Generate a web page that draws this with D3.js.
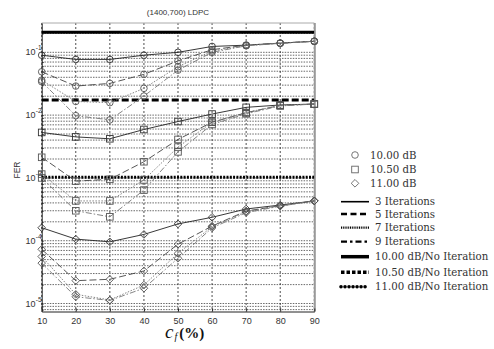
<!DOCTYPE html>
<html>
<head>
<meta charset="utf-8">
<script src="https://cdn.jsdelivr.net/npm/d3@7/dist/d3.min.js"></script>
<style>
  html, body { margin: 0; padding: 0; background: #fff; }
  svg { display: block; }
</style>
</head>
<body>
<svg id="chart" width="494" height="349"></svg>
<script>
// ---------------- DATA ----------------
const xValues = [10, 20, 30, 40, 50, 60, 70, 80, 90];
const xTickLabels = ["10", "20", "30", "40", "50", "60", "70", "80", "90"];
const yTickExponents = [-1, -2, -3, -4, -5];
const snrLabels = ["10.00 dB", "10.50 dB", "11.00 dB"];
const iterationLabels = ["3 Iterations", "5 Iterations", "7 Iterations", "9 Iterations"];
const noIterLabels = ["10.00 dB/No Iteration", "10.50 dB/No Iteration", "11.00 dB/No Iteration"];
const noIterFER = [0.208, 0.0174, 0.00102];

// 10.00 dB (circles)
const fer10_it3 = [0.090, 0.077, 0.077, 0.090, 0.100, 0.124, 0.130, 0.140, 0.150];
const fer10_it5 = [0.049, 0.029, 0.032, 0.0446, 0.073, 0.110, 0.130, 0.140, 0.150];
const fer10_it7 = [0.036, 0.0165, 0.0158, 0.0267, 0.059, 0.105, 0.128, 0.140, 0.150];
const fer10_it9 = [0.034, 0.0098, 0.0084, 0.0201, 0.052, 0.100, 0.127, 0.139, 0.150];
// 10.50 dB (squares)
const fer105_it3 = [0.0053, 0.0045, 0.0042, 0.0059, 0.0079, 0.0104, 0.0133, 0.0145, 0.0150];
const fer105_it5 = [0.00213, 0.00089, 0.00095, 0.00181, 0.0041, 0.0077, 0.0109, 0.0143, 0.0150];
const fer105_it7 = [0.00115, 0.00043, 0.00043, 0.00093, 0.0031, 0.0077, 0.0110, 0.0143, 0.0150];
const fer105_it9 = [0.00100, 0.00030, 0.00024, 0.00064, 0.0026, 0.0071, 0.0105, 0.0140, 0.0150];
// 11.00 dB (diamonds)
const fer11_it3 = [1.61e-4, 1.06e-4, 9.6e-5, 1.26e-4, 1.85e-4, 2.36e-4, 3.2e-4, 3.7e-4, 4.3e-4];
const fer11_it5 = [7.3e-5, 2.31e-5, 2.43e-5, 3.3e-5, 8.8e-5, 1.71e-4, 2.97e-4, 3.6e-4, 4.3e-4];
const fer11_it7 = [5.6e-5, 1.40e-5, 1.14e-5, 1.97e-5, 6.3e-5, 1.67e-4, 2.9e-4, 3.6e-4, 4.3e-4];
const fer11_it9 = [4.4e-5, 1.28e-5, 1.12e-5, 1.75e-5, 5.25e-5, 1.60e-4, 2.8e-4, 3.55e-4, 4.3e-4];

const seriesTable = [
  [fer10_it3, fer10_it5, fer10_it7, fer10_it9],
  [fer105_it3, fer105_it5, fer105_it7, fer105_it9],
  [fer11_it3, fer11_it5, fer11_it7, fer11_it9]
];

// ---------------- STYLES ----------------
const markerShapes = ["circle", "square", "diamond"];
const iterStyles = [
  { dash: null, color: "#222", width: 0.9 },
  { dash: "7,3", color: "#444", width: 0.9 },
  { dash: "1.5,1.5", color: "#777", width: 0.9 },
  { dash: "6,2,1.5,2", color: "#777", width: 0.9 }
];
const noIterStyles = [
  { dash: null, width: 3 },
  { dash: "7,3", width: 2.8 },
  { dash: "2,1.3", width: 3 }
];

// ---------------- LAYOUT ----------------
const svg = d3.select("#chart");
const plot = { left: 41.7, right: 314.3, top: 23, bottom: 311.5 };
const x = d3.scaleLinear().domain([10, 90]).range([plot.left, plot.right]);
const y = d3.scaleLog().domain([7.46e-6, 0.293]).range([plot.bottom, plot.top]);

const tickFont = "'Liberation Sans Narrow', 'Liberation Sans', Arial, sans-serif";

// grid lines
const gridG = svg.append("g");
const minorVals = [];
for (let e = -6; e <= 0; e++) {
  for (let k = 1; k <= 9; k++) {
    const v = k * Math.pow(10, e);
    if (v >= y.domain()[0] && v <= y.domain()[1]) minorVals.push(v);
  }
}
gridG.selectAll("line.hg").data(minorVals).join("line")
  .attr("x1", plot.left).attr("x2", plot.right)
  .attr("y1", d => y(d)).attr("y2", d => y(d))
  .attr("stroke", "#444").attr("stroke-width", 0.8)
  .attr("stroke-dasharray", "1.5,1.2");
gridG.selectAll("line.vg").data(xValues).join("line")
  .attr("x1", d => x(d)).attr("x2", d => x(d))
  .attr("y1", plot.top).attr("y2", plot.bottom)
  .attr("stroke", "#222").attr("stroke-width", 0.8)
  .attr("stroke-dasharray", "2,2");

// frame
svg.append("line").attr("x1", plot.left).attr("x2", plot.right).attr("y1", plot.top).attr("y2", plot.top)
  .attr("stroke", "#aaa").attr("stroke-width", 1);
svg.append("line").attr("x1", plot.right + 0.5).attr("x2", plot.right + 0.5).attr("y1", plot.top).attr("y2", plot.bottom)
  .attr("stroke", "#999").attr("stroke-width", 2);

// axes
const xAxis = d3.axisBottom(x).tickValues(xValues).tickFormat((d, i) => xTickLabels[i]).tickSizeInner(-3).tickSizeOuter(0).tickPadding(6);
const xg = svg.append("g").attr("transform", `translate(0,${plot.bottom})`).call(xAxis);
xg.select(".domain").attr("stroke", "#222");
xg.selectAll(".tick line").attr("stroke", "#222");
xg.selectAll("text").attr("font-family", tickFont).attr("font-size", 9).attr("fill", "#333");

const yAxis = d3.axisLeft(y).tickValues(minorVals).tickFormat(() => "").tickSizeInner(-2).tickSizeOuter(0);
const yg = svg.append("g").attr("transform", `translate(${plot.left},0)`).call(yAxis);
yg.select(".domain").attr("stroke", "#222");
yg.selectAll(".tick line").attr("stroke", "#222");

// y tick labels 10^e
const ylab = svg.append("g");
yTickExponents.forEach(e => {
  const yy = y(Math.pow(10, e));
  ylab.append("text").attr("x", 35.5).attr("y", yy + 3)
    .attr("text-anchor", "end").attr("font-family", tickFont).attr("font-size", 9).attr("fill", "#333")
    .text("10");
  ylab.append("text").attr("x", 35.8).attr("y", yy - 2)
    .attr("font-family", tickFont).attr("font-size", 6.5).attr("fill", "#333")
    .text(String(e));
});

// clip
svg.append("clipPath").attr("id", "clip").append("rect")
  .attr("x", plot.left).attr("y", plot.top).attr("width", plot.right - plot.left).attr("height", plot.bottom - plot.top);

// no-iteration lines
const noG = svg.append("g").attr("clip-path", "url(#clip)");
noIterFER.forEach((v, i) => {
  noG.append("line").attr("x1", plot.left).attr("x2", plot.right)
    .attr("y1", y(v)).attr("y2", y(v))
    .attr("stroke", "#000").attr("stroke-width", noIterStyles[i].width)
    .attr("stroke-dasharray", noIterStyles[i].dash);
});

// series
const line = d3.line().x(d => x(d[0])).y(d => y(d[1]));
const seriesG = svg.append("g");
function drawMarker(g, shape, cx, cy, color) {
  if (shape === "circle") {
    g.append("circle").attr("cx", cx).attr("cy", cy).attr("r", 3.3)
      .attr("fill", "none").attr("stroke", color).attr("stroke-width", 0.9);
  } else if (shape === "square") {
    g.append("rect").attr("x", cx - 3.3).attr("y", cy - 3.3).attr("width", 6.6).attr("height", 6.6)
      .attr("fill", "none").attr("stroke", color).attr("stroke-width", 0.9);
  } else {
    const r = 3.8;
    g.append("path").attr("d", `M${cx},${cy - r}L${cx + r},${cy}L${cx},${cy + r}L${cx - r},${cy}Z`)
      .attr("fill", "none").attr("stroke", color).attr("stroke-width", 0.9);
  }
}
seriesTable.forEach((group, si) => {
  group.forEach((vals, ii) => {
    const pts = xValues.map((xv, k) => [xv, vals[k]]);
    const st = iterStyles[ii];
    seriesG.append("path").attr("d", line(pts)).attr("fill", "none")
      .attr("stroke", st.color).attr("stroke-width", st.width)
      .attr("stroke-dasharray", st.dash);
    pts.forEach(p => drawMarker(seriesG, markerShapes[si], x(p[0]), y(p[1]), ii === 0 ? "#333" : "#555"));
  });
});

// title
svg.append("text").attr("x", 178).attr("y", 15).attr("text-anchor", "middle")
  .attr("font-family", "'Liberation Sans', Arial, sans-serif").attr("font-size", 8).attr("fill", "#333")
  .text("(1400,700) LDPC");

// y label
svg.append("text").attr("transform", "translate(19.5,170) rotate(-90)").attr("text-anchor", "middle")
  .attr("font-family", "'Liberation Sans', Arial, sans-serif").attr("font-size", 8.5).attr("fill", "#333")
  .text("FER");

// x label  c_f (%)
const xl = svg.append("text").attr("x", 165).attr("y", 337.5)
  .attr("font-family", "'Liberation Serif', 'Times New Roman', serif").attr("fill", "#111");
xl.append("tspan").attr("font-style", "italic").attr("font-size", 19).text("c");
xl.append("tspan").attr("font-style", "italic").attr("font-size", 10).attr("dy", 2.5).attr("dx", 1).text("f");
xl.append("tspan").attr("font-weight", "bold").attr("font-size", 15).attr("dy", -2.5).attr("dx", 2).text("(%)");

// legend
const legFont = "'DejaVu Serif', 'Liberation Serif', serif";
const legSize = 10.2;
const leg = svg.append("g");
const markerRowsY = [155, 169.5, 183.3];
snrLabels.forEach((lab, i) => {
  drawMarker(leg, markerShapes[i], 355, markerRowsY[i], "#666");
  leg.append("text").attr("x", 370).attr("y", markerRowsY[i] + 3.5)
    .attr("font-family", legFont).attr("font-size", legSize).attr("fill", "#333").text(lab);
});
const lineRowsY = [201.7, 214, 227.7, 241.7, 256.7, 272.3, 286.7];
const legLineStyles = [
  { dash: null, width: 1.6 },
  { dash: "6,3.5", width: 2.4 },
  { dash: "1,0.8", width: 2.2 },
  { dash: "6,3,2.5,3", width: 2.2 },
  { dash: null, width: 3.5 },
  { dash: "3.5,2", width: 3.6 },
  { dash: "0.01,4", width: 3.6, cap: "round" }
];
const legLineLabels = iterationLabels.concat(noIterLabels);
legLineLabels.forEach((lab, i) => {
  const st = legLineStyles[i];
  leg.append("line").attr("x1", 341).attr("x2", 369).attr("y1", lineRowsY[i]).attr("y2", lineRowsY[i])
    .attr("stroke", "#000").attr("stroke-width", st.width)
    .attr("stroke-dasharray", st.dash).attr("stroke-linecap", st.cap || "butt");
  leg.append("text").attr("x", 375).attr("y", lineRowsY[i] + 3.6)
    .attr("font-family", legFont).attr("font-size", legSize).attr("fill", "#333").text(lab);
});
</script>
</body>
</html>
